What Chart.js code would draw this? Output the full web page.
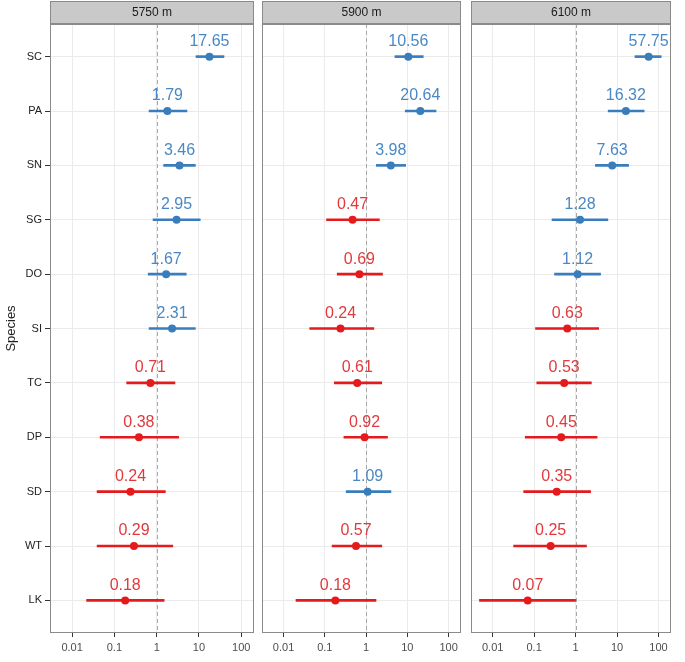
<!DOCTYPE html>
<html>
<head>
<meta charset="utf-8">
<script src="https://cdn.jsdelivr.net/npm/chart.js@4"></script>
<style>
  body { margin: 0; background: #fff; }
  #wrap { position: relative; width: 685px; height: 662px; }
  canvas { position: absolute; top: 0; }
</style>
</head>
<body>
<div id="wrap">
  <canvas id="c1" width="258" height="662" style="left:0px"></canvas>
  <canvas id="c2" width="207" height="662" style="left:258px"></canvas>
  <canvas id="c3" width="208" height="662" style="left:467px"></canvas>
</div>
<script>
const species = ['SC', 'PA', 'SN', 'SG', 'DO', 'SI', 'TC', 'DP', 'SD', 'WT', 'LK'];
const panels = ['5750 m', '5900 m', '6100 m'];
const xTicks = [0.01, 0.1, 1, 10, 100];

const est5750 = [17.65, 1.79, 3.46, 2.95, 1.67, 2.31, 0.71, 0.38, 0.24, 0.29, 0.18];
const lo5750  = [8.5, 0.66, 1.46, 0.82, 0.63, 0.66, 0.195, 0.046, 0.039, 0.039, 0.022];
const hi5750  = [39, 5.2, 8.2, 10.7, 5.0, 8.2, 2.7, 3.3, 1.6, 2.4, 1.5];

const est5900 = [10.56, 20.64, 3.98, 0.47, 0.69, 0.24, 0.61, 0.92, 1.09, 0.57, 0.18];
const lo5900  = [5.0, 8.9, 1.77, 0.11, 0.2, 0.043, 0.17, 0.29, 0.33, 0.15, 0.02];
const hi5900  = [24.3, 49.7, 9.1, 2.1, 2.5, 1.54, 2.4, 3.3, 4.0, 2.4, 1.74];

const est6100 = [57.75, 16.32, 7.63, 1.28, 1.12, 0.63, 0.53, 0.45, 0.35, 0.25, 0.07];
const lo6100  = [27, 6.1, 3.0, 0.27, 0.31, 0.108, 0.116, 0.061, 0.056, 0.032, 0.0048];
const hi6100  = [116, 45, 19, 6.0, 4.0, 3.6, 2.4, 3.3, 2.3, 1.83, 1.0];

const BLUE = '#3a7dbd', RED = '#e41a1c';
const BLUE_TXT = '#4a88c4', RED_TXT = '#e2393c';
const FONT = '"Liberation Sans", Arial, sans-serif';

// strip, panel border, dashed line at 1, value labels
const facetPlugin = {
  id: 'facet',
  beforeDatasetsDraw(chart) {
    const ctx = chart.ctx, a = chart.chartArea;
    const x1 = chart.scales.x.getPixelForValue(1);
    ctx.save();
    ctx.strokeStyle = '#a8a8a8';
    ctx.lineWidth = 1;
    ctx.setLineDash([4, 3]);
    ctx.beginPath();
    ctx.moveTo(Math.round(x1) + 0.5, a.top);
    ctx.lineTo(Math.round(x1) + 0.5, a.bottom);
    ctx.stroke();
    ctx.restore();
  },
  afterDatasetsDraw(chart, args, opts) {
    const ctx = chart.ctx, a = chart.chartArea;
    ctx.save();
    // value labels
    const meta = chart.getDatasetMeta(1);
    ctx.font = '16px ' + FONT;
    ctx.textAlign = 'center';
    ctx.textBaseline = 'middle';
    meta.data.forEach((pt, i) => {
      const v = opts.values[i];
      ctx.fillStyle = v > 1 ? BLUE_TXT : RED_TXT;
      ctx.fillText(v.toFixed(2), pt.x, pt.y - 15);
    });
    // panel border
    ctx.strokeStyle = '#8a8a8a';
    ctx.lineWidth = 1;
    ctx.strokeRect(a.left + 0.5, a.top + 0.5, a.right - a.left - 1, a.bottom - a.top - 1);
    // strip
    ctx.fillStyle = '#c9c9c9';
    ctx.fillRect(a.left, 1, a.right - a.left, a.top - 2);
    ctx.strokeStyle = '#8a8a8a';
    ctx.strokeRect(a.left + 0.5, 1.5, a.right - a.left - 1, a.top - 2);
    ctx.fillStyle = '#1a1a1a';
    ctx.font = '12px ' + FONT;
    ctx.fillText(opts.title, (a.left + a.right) / 2, 12.5);
    ctx.restore();
  }
};

function makePanel(id, title, est, lo, hi, first, padL, padR) {
  const colors = est.map(v => v > 1 ? BLUE : RED);
  new Chart(document.getElementById(id), {
    type: 'bar',
    data: {
      datasets: [{
        data: est.map((v, i) => ({ x: [lo[i], hi[i]], y: i })),
        backgroundColor: colors,
        barThickness: 2,
        borderWidth: 0
      }, {
        type: 'line',
        data: est.map((v, i) => ({ x: v, y: i })),
        showLine: false,
        pointRadius: 4,
        pointHoverRadius: 4,
        pointBackgroundColor: colors,
        pointBorderWidth: 0
      }]
    },
    options: {
      indexAxis: 'y',
      responsive: false,
      animation: false,
      layout: { padding: { top: 24, left: padL, right: padR, bottom: 0 } },
      plugins: {
        legend: { display: false },
        tooltip: { enabled: false },
        facet: { title: title, values: est }
      },
      scales: {
        x: {
          type: 'logarithmic',
          min: 0.003,
          max: 200,
          afterBuildTicks: s => { s.ticks = xTicks.map(v => ({ value: v })); },
          afterFit: s => { s.height = 29; },
          grid: { color: '#ebebeb', tickLength: 4, tickColor: '#333' },
          border: { display: false },
          ticks: {
            color: '#4d4d4d',
            font: { family: FONT, size: 11 },
            padding: 4,
            maxRotation: 0,
            autoSkip: false,
            callback: v => String(v)
          }
        },
        y: {
          type: 'linear',
          reverse: true,
          offset: false,
          min: -0.6,
          max: species.length - 0.4,
          afterBuildTicks: s => { s.ticks = species.map((n, i) => ({ value: i })); },
          afterFit: s => { s.width = first ? 50 : 0; },
          grid: { color: '#ebebeb', offset: false, drawTicks: first, tickLength: 5, tickColor: '#333' },
          border: { display: false },
          ticks: {
            display: first,
            color: '#222',
            font: { family: FONT, size: 11 },
            padding: 3,
            autoSkip: false,
            callback: v => species[v]
          },
          title: {
            display: first,
            text: 'Species',
            color: '#222',
            font: { family: FONT, size: 13 },
            padding: { top: 4, bottom: 0 }
          }
        }
      }
    },
    plugins: [facetPlugin]
  });
}

makePanel('c1', panels[0], est5750, lo5750, hi5750, true, 0, 1);
makePanel('c2', panels[1], est5900, lo5900, hi5900, false, 1, 1);
makePanel('c3', panels[2], est6100, lo6100, hi6100, false, 1, 2);
</script>
</body>
</html>
